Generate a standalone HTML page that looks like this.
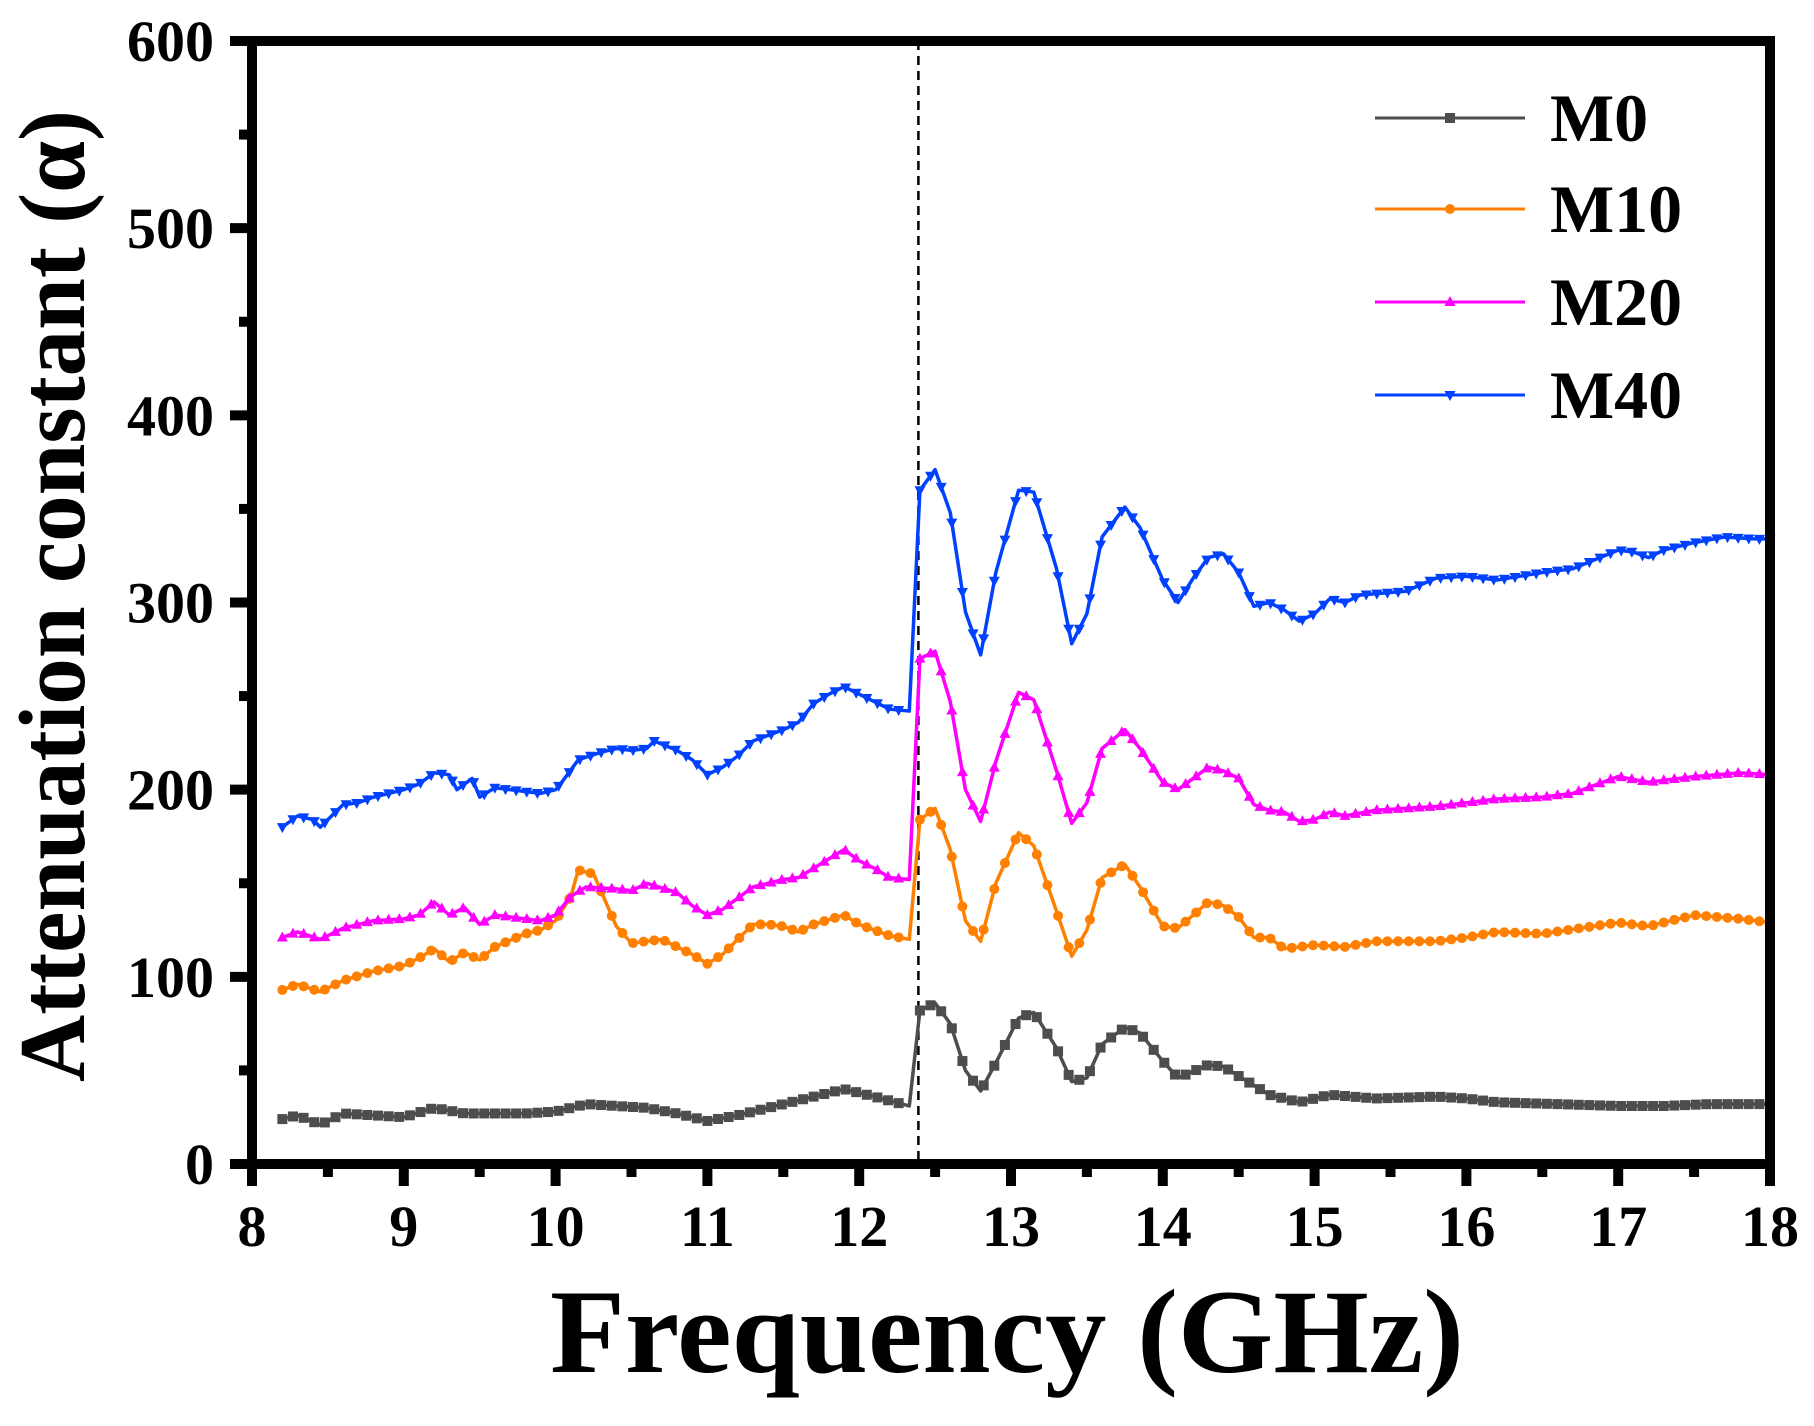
<!DOCTYPE html>
<html><head><meta charset="utf-8"><style>html,body{margin:0;padding:0;background:#fff}svg{display:block}</style></head>
<body>
<svg id="s" width="1814" height="1426" xmlns="http://www.w3.org/2000/svg" font-family="Liberation Serif, serif" font-weight="bold"></svg>
<script>
const NS="http://www.w3.org/2000/svg",s=document.getElementById('s');
const X0=252,X1=1770,Y0=1164,Y1=41;
const fx=v=>X0+(v-8)/10*(X1-X0), fy=v=>Y0-v/600*(Y0-Y1);
function el(t,a,txt){const e=document.createElementNS(NS,t);for(const k in a)e.setAttribute(k,a[k]);if(txt!==undefined)e.textContent=txt;s.appendChild(e);return e;}
const D={
M40:[[8.2,180],[8.3,186],[8.4,184],[8.45,180],[8.6,192],[8.7,193],[8.8,196],[8.9,198],[9.0,200],[9.1,203],[9.2,209],[9.3,208],[9.35,200],[9.45,206],[9.5,196],[9.6,201],[9.7,200],[9.8,199],[9.9,198],[10.0,200],[10.05,205],[10.15,216],[10.3,220],[10.4,222],[10.5,221],[10.6,222],[10.65,226],[10.8,221],[10.9,216],[11.0,208],[11.1,212],[11.2,218],[11.3,226],[11.4,229],[11.5,232],[11.6,236],[11.7,246],[11.8,251],[11.9,255],[12.0,251],[12.1,247],[12.2,243],[12.33,242],[12.4,360],[12.5,371],[12.6,348],[12.7,295],[12.8,272],[12.9,316],[13.05,360],[13.15,359],[13.3,318],[13.4,278],[13.5,294],[13.6,335],[13.75,351],[13.85,340],[14.0,312],[14.1,300],[14.2,313],[14.3,324],[14.4,326],[14.5,316],[14.6,298],[14.7,300],[14.8,296],[14.9,290],[15.0,294],[15.1,302],[15.2,300],[15.3,304],[15.6,306],[15.8,313],[16.0,314],[16.2,312],[16.5,316],[16.7,318],[17.0,328],[17.1,327],[17.2,324],[17.3,328],[17.5,332],[17.7,335],[17.9,334],[18,334]],
M20:[[8.2,121],[8.3,124],[8.45,120],[8.6,126],[8.8,130],[9.0,131],[9.1,133],[9.2,140],[9.3,133],[9.4,137],[9.5,128],[9.6,133],[9.8,131],[9.9,130],[10.0,133],[10.1,143],[10.2,148],[10.4,147],[10.5,146],[10.6,150],[10.8,145],[10.9,138],[11.0,133],[11.1,136],[11.3,148],[11.5,152],[11.6,153],[11.8,163],[11.9,168],[12.0,162],[12.1,158],[12.2,153],[12.33,152],[12.4,270],[12.5,274],[12.6,247],[12.7,200],[12.8,183],[12.9,215],[13.05,252],[13.15,248],[13.3,210],[13.4,182],[13.5,193],[13.6,222],[13.75,232],[13.85,222],[14.0,204],[14.1,200],[14.2,206],[14.3,212],[14.4,210],[14.5,206],[14.6,192],[14.7,189],[14.8,188],[14.9,183],[15.0,184],[15.1,188],[15.2,186],[15.4,189],[15.8,191],[16.0,193],[16.2,195],[16.5,196],[16.7,198],[17.0,207],[17.2,204],[17.5,207],[17.8,209],[18,208]],
M10:[[8.2,93],[8.3,96],[8.45,92],[8.6,98],[8.8,103],[9.0,106],[9.1,110],[9.2,115],[9.3,108],[9.4,113],[9.5,109],[9.6,116],[9.8,123],[9.9,125],[10.0,130],[10.1,143],[10.15,157],[10.25,155],[10.4,127],[10.5,118],[10.6,119],[10.7,120],[10.9,112],[11.0,107],[11.1,112],[11.3,128],[11.4,128],[11.5,127],[11.6,124],[11.7,128],[11.9,133],[12.0,128],[12.1,125],[12.2,122],[12.33,120],[12.4,184],[12.5,190],[12.6,168],[12.7,130],[12.8,119],[12.9,150],[13.05,177],[13.15,170],[13.3,135],[13.4,111],[13.5,125],[13.6,153],[13.75,160],[13.85,148],[14.0,127],[14.1,126],[14.3,140],[14.4,138],[14.5,132],[14.6,121],[14.7,121],[14.8,115],[15.0,117],[15.2,116],[15.4,119],[15.8,119],[16.0,121],[16.2,124],[16.5,123],[17.0,129],[17.2,127],[17.5,133],[17.8,131],[18,129]],
M0:[[8.2,24],[8.3,26],[8.45,21],[8.6,27],[8.8,26],[9.0,25],[9.2,30],[9.4,27],[9.6,27],[9.8,27],[10.0,28],[10.2,32],[10.4,31],[10.6,30],[10.8,27],[11.0,23],[11.2,26],[11.4,30],[11.6,34],[11.8,38],[11.9,40],[12.1,36],[12.33,31],[12.4,82],[12.5,86],[12.6,75],[12.7,50],[12.8,39],[12.9,54],[13.05,78],[13.15,81],[13.3,62],[13.4,44],[13.5,46],[13.6,64],[13.75,73],[13.85,70],[14.0,55],[14.1,46],[14.3,53],[14.4,52],[14.5,47],[14.7,37],[14.9,33],[15.1,37],[15.4,35],[15.8,36],[16.0,35],[16.2,33],[16.6,32],[17.0,31],[17.3,31],[17.6,32],[18,32]]};
const C={M0:'#4d4d4d',M10:'#ff8000',M20:'#ff00ff',M40:'#0040ff'};
function interp(p,x){for(let i=1;i<p.length;i++)if(x<=p[i][0]){const a=p[i-1],b=p[i];return a[1]+(b[1]-a[1])*(x-a[0])/(b[0]-a[0]);}return p[p.length-1][1];}
function marker(k,x,y,c){
 if(k==='M0')el('rect',{x:x-5,y:y-5,width:10,height:10,fill:c});
 else if(k==='M10')el('circle',{cx:x,cy:y,r:5,fill:c});
 else if(k==='M20')el('path',{d:`M${x} ${y-6}L${x+5.5} ${y+4}L${x-5.5} ${y+4}Z`,fill:c});
 else el('path',{d:`M${x} ${y+6}L${x+5.5} ${y-4}L${x-5.5} ${y-4}Z`,fill:c});
}
el('line',{x1:fx(12.39),y1:Y1,x2:fx(12.39),y2:Y0,stroke:'#000','stroke-width':2.5,'stroke-dasharray':'9,6'});
for(const k of ['M0','M10','M20','M40']){
 const p=D[k],c=C[k];
 el('polyline',{points:p.map(q=>fx(q[0])+','+fy(q[1])).join(' '),fill:'none',stroke:c,'stroke-width':3.5,'stroke-linejoin':'round'});
 for(let x=8.2;x<=18.001;x+=0.07){
   if(x>12.33&&x<12.4)continue;
   marker(k,fx(x),fy(interp(p,x)),c);
 }
}
el('rect',{x:X0,y:Y1,width:X1-X0,height:Y0-Y1,fill:'none',stroke:'#000','stroke-width':10});
for(let v=0;v<=600;v+=50){const y=fy(v);el('line',{x1:X0,x2:X0-(v%100?13:22),y1:y,y2:y,stroke:'#000','stroke-width':10});
 if(v%100===0)el('text',{x:214,y:y+20,'text-anchor':'end','font-size':58},v);}
for(let v=8;v<=18;v+=0.5){const x=fx(v);el('line',{x1:x,x2:x,y1:Y0,y2:Y0+(v%1?13:22),stroke:'#000','stroke-width':10});
 if(v%1===0)el('text',{x:x,y:1246,'text-anchor':'middle','font-size':58},v);}
el('text',{x:1007,y:1372,'text-anchor':'middle','font-size':120,textLength:914,lengthAdjust:'spacingAndGlyphs'},'Frequency (GHz)');
el('text',{x:0,y:0,'text-anchor':'middle','font-size':94,textLength:972,lengthAdjust:'spacingAndGlyphs',transform:'translate(84,596) rotate(-90)'},'Attenuation constant (α)');
const L=[['M0',118],['M10',209],['M20',302],['M40',395]];
for(const [k,y] of L){el('line',{x1:1375,x2:1525,y1:y,y2:y,stroke:C[k],'stroke-width':3});marker(k,1450,y,C[k]);
 el('text',{x:1550,y:y+23,'font-size':68},k);}
</script>
</body></html>
